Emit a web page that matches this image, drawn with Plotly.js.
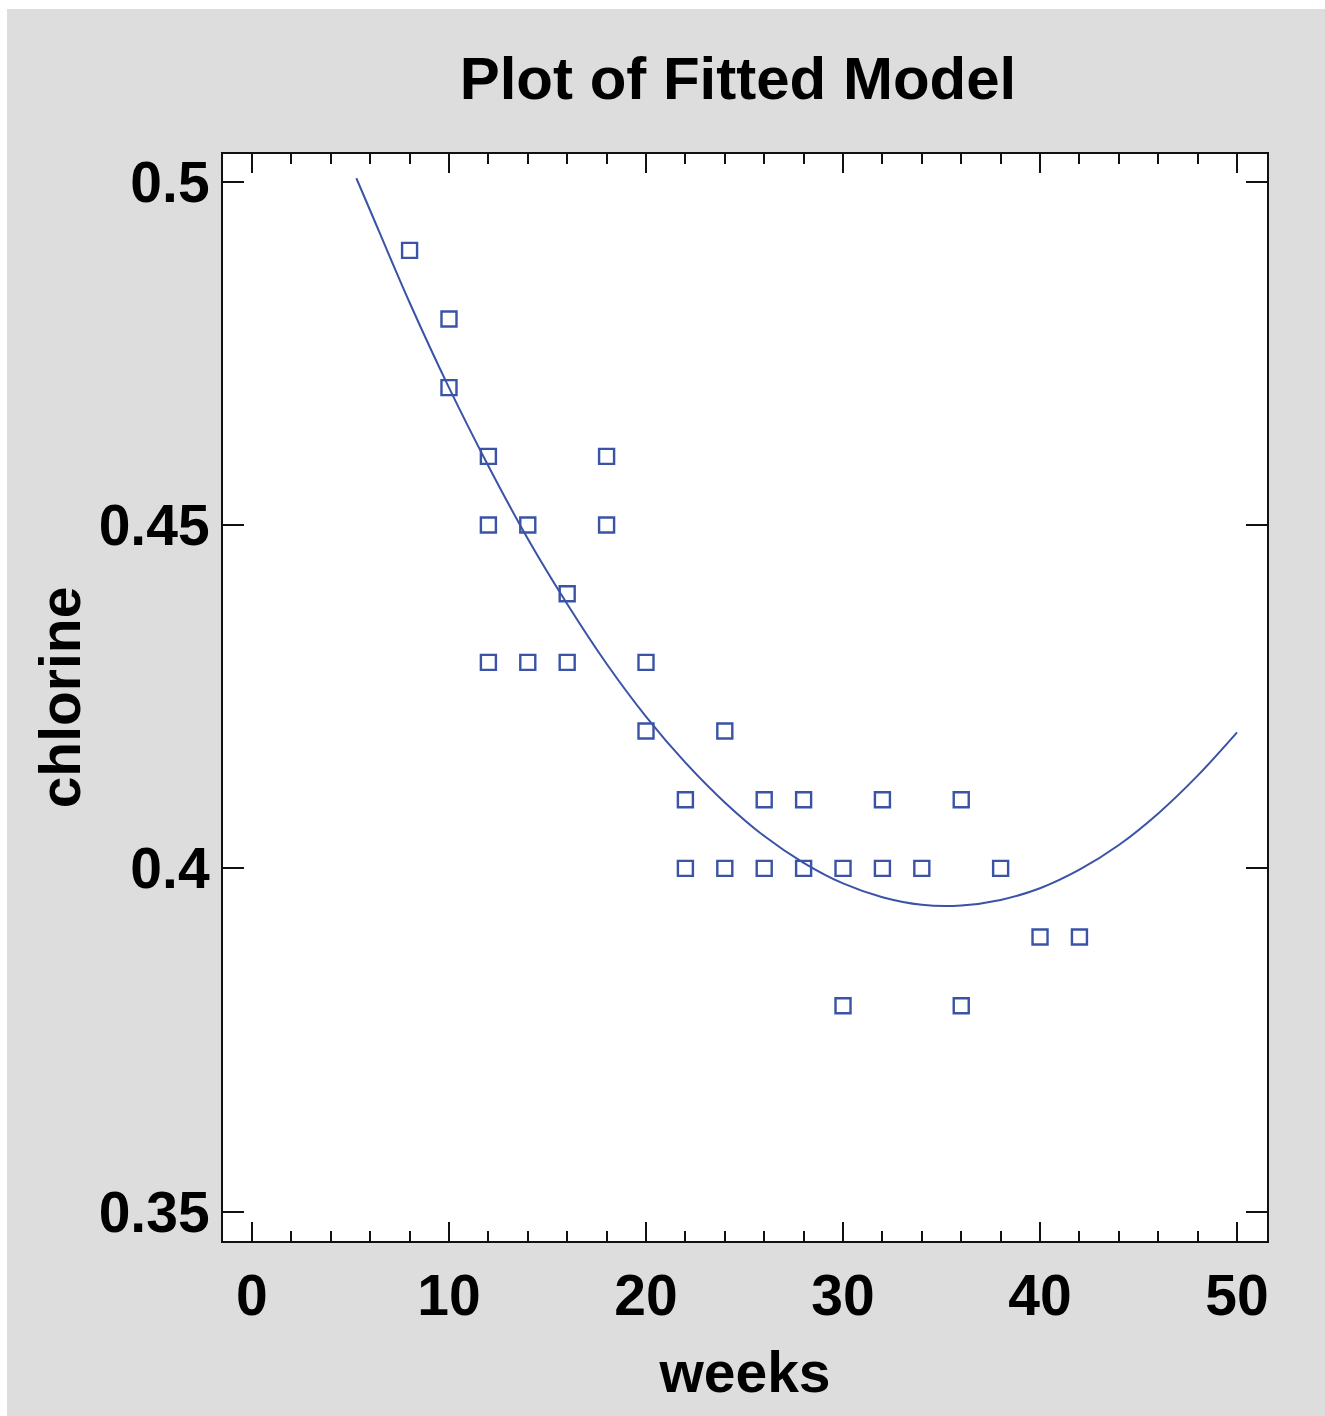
<!DOCTYPE html>
<html>
<head>
<meta charset="utf-8">
<script src="https://cdn.plot.ly/plotly-3.0.1.min.js"></script>
<style>
  html, body { margin: 0; padding: 0; background: #ffffff; }
  #chart { position: absolute; left: 7px; top: 9px; width: 1318px; height: 1407px; }
</style>
</head>
<body>
<div id="chart"></div>
<script>
// Observed data: weeks vs chlorine
const weeks = [8, 10, 10, 12, 12, 12, 14, 14, 16, 16, 18, 18, 20, 20, 22, 22, 24, 24, 26, 26, 28, 28, 30, 30, 32, 32, 34, 36, 36, 38, 40, 42];
const chlorine = [0.49, 0.48, 0.47, 0.46, 0.45, 0.43, 0.45, 0.43, 0.44, 0.43, 0.46, 0.45, 0.43, 0.42, 0.41, 0.40, 0.42, 0.40, 0.41, 0.40, 0.41, 0.40, 0.40, 0.38, 0.41, 0.40, 0.40, 0.41, 0.38, 0.40, 0.39, 0.39];

// Fitted curve, values
const fitWeeks = [5.3, 6, 8, 10, 12, 14, 16, 18, 20, 22, 24, 26, 28, 30, 32, 34, 36, 38, 40, 42, 44, 46, 48, 50];
const fitChlorine = [0.5005, 0.4958, 0.4824, 0.4700, 0.4586, 0.4480, 0.4385, 0.4298, 0.4221, 0.4154, 0.4096, 0.4047, 0.4008, 0.3978, 0.3958, 0.3947, 0.3946, 0.3954, 0.3971, 0.3998, 0.4034, 0.4080, 0.4135, 0.4198];

const xTicks = [0, 10, 20, 30, 40, 50];
const xTickText = ["0", "10", "20", "30", "40", "50"];
const yTicks = [0.35, 0.40, 0.45, 0.50];
const yTickText = ["0.35", "0.4", "0.45", "0.5"];

const blue = '#3a53a6';
const ink = '#111111';
const font = { family: 'Liberation Sans, Arial, sans-serif', size: 57, color: '#000000', weight: 'bold' };

const traces = [
  {
    x: fitWeeks, y: fitChlorine, type: 'scatter', mode: 'lines',
    line: { color: blue, width: 2, shape: 'spline', smoothing: 1 },
    hoverinfo: 'skip'
  },
  {
    x: weeks, y: chlorine, type: 'scatter', mode: 'markers',
    marker: { symbol: 'square-open', size: 15, color: blue, line: { width: 2.4, color: blue } }
  }
];

const layout = {
  width: 1318, height: 1407,
  paper_bgcolor: '#dcdddc',
  plot_bgcolor: '#ffffff',
  showlegend: false,
  margin: { l: 216, r: 58, t: 145, b: 175, pad: 0 },
  title: {
    text: 'Plot of Fitted Model',
    font: { family: font.family, size: 60, color: '#000000', weight: 'bold' },
    xref: 'container', x: 0.5546, xanchor: 'center',
    yref: 'container', y: 0.9513, yanchor: 'middle'
  },
  xaxis: {
    range: [-1.47, 51.52],
    tickmode: 'array', tickvals: xTicks, ticktext: xTickText,
    ticks: 'inside', ticklen: 19, tickwidth: 2, tickcolor: ink,
    minor: { dtick: 2, ticks: 'inside', ticklen: 10, tickwidth: 2, tickcolor: ink, showgrid: false },
    showline: true, linecolor: ink, linewidth: 2, mirror: 'allticks',
    showgrid: false, zeroline: false,
    tickfont: font,
    ticklabelstandoff: 4,
    title: { text: 'weeks', font: font, standoff: 26 }
  },
  yaxis: {
    range: [0.34573, 0.50403],
    tickmode: 'array', tickvals: yTicks, ticktext: yTickText,
    ticks: 'inside', ticklen: 21, tickwidth: 2, tickcolor: ink,
    showline: true, linecolor: ink, linewidth: 2, mirror: 'allticks',
    showgrid: false, zeroline: false,
    tickfont: font,
    ticklabelstandoff: 0,
    title: { text: 'chlorine', font: font, standoff: 0 }
  }
};

Plotly.newPlot('chart', traces, layout, { displayModeBar: false, staticPlot: true });
</script>
</body>
</html>
